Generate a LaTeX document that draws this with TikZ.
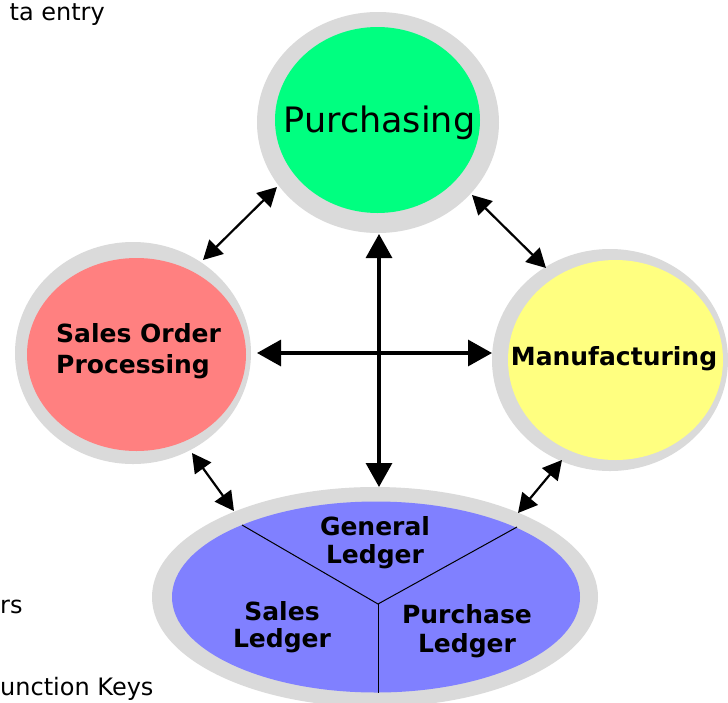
\documentclass[tikz,border=0pt]{standalone}
\usepackage{fontspec}
\setmainfont{DejaVu Sans}
\usetikzlibrary{shapes.geometric,arrows.meta}
\definecolor{ringgray}{HTML}{DADADA}
\definecolor{purgreen}{HTML}{00FF80}
\definecolor{sopred}{HTML}{FF8080}
\definecolor{manyellow}{HTML}{FFFF80}
\definecolor{ledblue}{HTML}{8080FF}
\begin{document}
\begin{tikzpicture}[x=1pt,y=-1pt,
  ring/.style={ellipse,fill=ringgray,draw=none,inner sep=0pt},
  disc/.style={ellipse,draw=none,inner sep=0pt},
  lbl/.style={font=\fontsize{25}{30}\selectfont\bfseries,inner sep=0pt,anchor=base},
  bg/.style={font=\fontsize{24}{30}\selectfont,inner sep=0pt},
  link/.style={line width=2.2pt,{Triangle[length=19pt,width=20pt]}-{Triangle[length=19pt,width=20pt]}},
  mainlink/.style={line width=3.2pt,{Triangle[length=24pt,width=26pt]}-{Triangle[length=24pt,width=26pt]}},
  divider/.style={line width=1pt}]
\useasboundingbox (0,0) rectangle (728,702);
\clip (0,0) rectangle (728,702);
\fill[white] (0,0) rectangle (728,702);

% rings
\node[ring,minimum width=242pt,minimum height=221pt] (purO) at (378,122.5) {};
\node[ring,minimum width=236pt,minimum height=222pt] (sopO) at (133,353) {};
\node[ring,minimum width=236pt,minimum height=222pt] (manO) at (610,360) {};
\node[ring,minimum width=446pt,minimum height=220pt] (ledO) at (375,597) {};

% discs
\node[disc,fill=purgreen,minimum width=205pt,minimum height=186pt] (pur) at (377.5,120) {};
\node[disc,fill=sopred,minimum width=219pt,minimum height=193pt] (sop) at (136.5,354.5) {};
\node[disc,fill=manyellow,minimum width=215pt,minimum height=200pt] (man) at (615.5,360) {};
\node[disc,fill=ledblue,minimum width=408pt,minimum height=191pt] (led) at (376,597) {};

% ledger dividers
\coordinate (hub) at (378,604);
\coordinate (divL) at (242,525);
\coordinate (divR) at (517,527);
\coordinate (divB) at (378,693);
\draw[divider] (divL) -- (hub) -- (divR);
\draw[divider] (hub) -- (divB);

% labels (base anchor = baseline of last line)
\node[inner sep=0pt,anchor=base,font=\fontsize{35}{40}\selectfont] (purT) at (379.5,132) {Purchasing};
\node[lbl,anchor=base west,align=left,font=\fontsize{25}{31}\selectfont\bfseries] (sopT) at (56,373) {Sales Order\\Processing};
\node[lbl] (manT) at (614,365) {Manufacturing};
\node[lbl,align=center,font=\fontsize{25}{28}\selectfont\bfseries] (glT) at (375,563) {General\\Ledger};
\node[lbl,align=center,font=\fontsize{25}{27}\selectfont\bfseries] (slT) at (282,647) {Sales\\Ledger};
\node[lbl,align=center,font=\fontsize{25}{29}\selectfont\bfseries] (plT) at (467,652) {Purchase\\Ledger};

% arrow end points
\coordinate (pSop) at (277,187);
\coordinate (sPur) at (203,260);
\coordinate (pMan) at (472,195);
\coordinate (mPur) at (546,268);
\coordinate (sLed) at (192,453);
\coordinate (lSop) at (234,511);
\coordinate (mLed) at (562,460);
\coordinate (lMan) at (518,513);
\coordinate (sMan) at (257,353);
\coordinate (mSop) at (492,353);
\coordinate (pLed) at (379,234);
\coordinate (lPur) at (379,487);

\draw[link] (sPur) -- (pSop);
\draw[link] (pMan) -- (mPur);
\draw[link] (sLed) -- (lSop);
\draw[link] (lMan) -- (mLed);
\draw[mainlink] (sMan) -- (mSop);
\draw[mainlink] (pLed) -- (lPur);

% background text fragments
\node[bg,anchor=base east] (bgA) at (105,20) {ta entry};
\node[bg,anchor=base west] (bgB) at (0,613) {rs};
\node[bg,anchor=base west] (bgC) at (0,695) {unction Keys};
\end{tikzpicture}
\end{document}
